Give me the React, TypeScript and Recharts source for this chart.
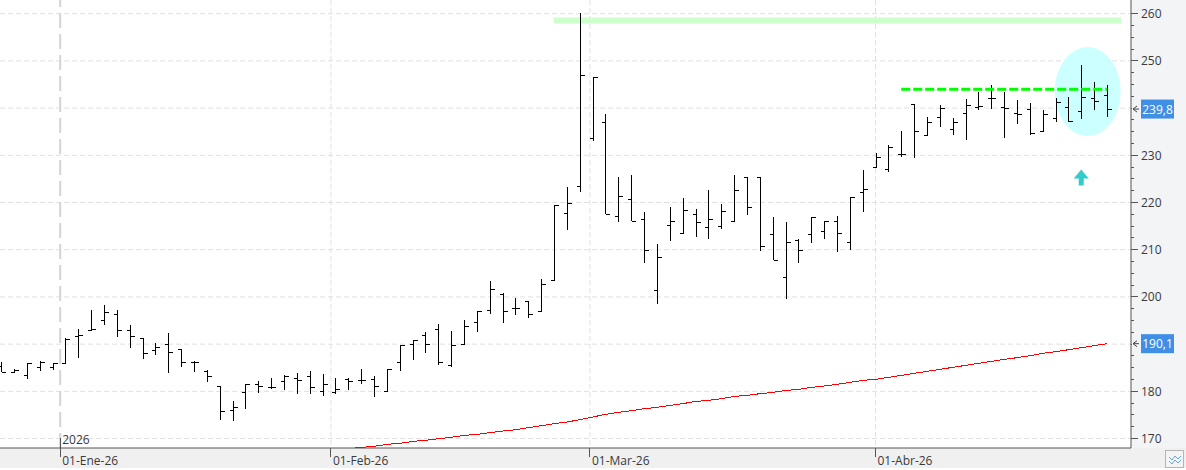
import {
  Bar,
  CartesianGrid,
  ComposedChart,
  Line,
  ReferenceArea,
  ReferenceDot,
  ReferenceLine,
  XAxis,
  YAxis,
} from 'recharts';

const opens = [
  185.3, 184.16, 183.52, 185.08, 185.08, 186.1, 191.8, 192.9, 195.03, 196.38, 192.9, 191.2, 188.68, 190, 189.03,
  186.14, 184.23, 181.12, 176.04, 179.78, 181.47, 180.98, 182.18, 182.75, 183.17, 180, 179.85, 182.54, 182.32,
  182.54, 180, 186.14, 189.95, 191.86, 193.13, 185.5, 189.95, 194.61, 197.15, 200.54, 197.58, 199.06, 197.08,
  203.51, 217.7, 223.42, 233.59, 236.98, 217.07, 220.67, 216.43, 201.39, 215.16, 213.47, 217.49, 214.74, 214.95,
  216.01, 225.33, 225.33, 213.25, 204.14, 211.98, 213.25, 213.89, 216.15, 211.56, 222.15, 227.45, 227.02, 230.2,
  240.87, 234.23, 238.04, 235.57, 238.89, 240.16, 242.07, 240.16, 238.89, 239.74, 235.08, 237.83, 240.16, 239.31,
  242.07, 242.7,
];
const highs = [
  186.28, 184.65, 185.92, 186.35, 186, 191.2, 193.13, 197.2, 198.28, 197.2, 194.04, 191.2, 190.23, 192.35, 189.03,
  186.49, 184.51, 181.12, 177.94, 181.47, 182.18, 182.75, 183.52, 183.95, 184.23, 183.6, 182.75, 182.75, 184.73,
  183.17, 184.65, 189.74, 190.8, 192.49, 194.19, 192.71, 195.04, 196.94, 203.3, 200.76, 199.7, 199.06, 203.72,
  219.54, 223.28, 260.08, 246.52, 238.68, 225.33, 225.75, 217.91, 211.14, 218.97, 220.88, 218.55, 222.58, 219.61,
  225.75, 225.33, 225.33, 216.92, 215.8, 212.19, 216.85, 216.15, 217.07, 221.09, 226.81, 230.41, 232.11, 235.14,
  240.87, 238.04, 240.65, 237.9, 241.93, 243.41, 244.89, 243.41, 241.71, 241.01, 239.52, 242.07, 242.35, 249.06,
  245.53, 244.82,
];
const lows = [
  184.16, 183.8, 182.67, 184.37, 184.5, 186.06, 187.05, 192.84, 194.04, 191.57, 189.24, 186.91, 187.62, 183.95,
  185.22, 184.16, 182.04, 173.99, 173.78, 176.32, 179.71, 180.49, 180.27, 179.5, 179.5, 179.08, 179.5, 180.35,
  181.62, 178.86, 180, 184.37, 186.7, 188.04, 185.5, 185.08, 189.74, 192.64, 196.31, 194.4, 196.24, 195.6, 196.87,
  203.44, 214.17, 222.22, 233.03, 217.49, 215.87, 216.01, 207.18, 198.57, 211.91, 213.47, 212.76, 212.34, 214.45,
  216.01, 217.42, 209.79, 207.89, 199.62, 207.25, 211.49, 212.33, 209.58, 210, 218.05, 227.45, 226.39, 229.57,
  229.5, 234.16, 236.06, 234.3, 233.3, 239.67, 239.88, 233.73, 236.63, 234.37, 235, 237.12, 237.12, 237.76, 239.6,
  238.18,
];
const closes = [
  184.16, 184.44, 185.92, 186.27, 186, 191.1, 191.93, 193.13, 196.73, 192.9, 191.64, 188.04, 189.31, 188.25, 186.14,
  186.2, 183.24, 175.75, 176.67, 181.47, 181.05, 180.98, 183.31, 182.32, 180.84, 181.48, 180.42, 182.11, 182.32,
  181.05, 184.65, 189.74, 190.8, 189.95, 186.14, 189.74, 193.77, 196.94, 201.6, 196.94, 197.58, 196.31, 202.66,
  219.4, 219.82, 246.94, 246.52, 217.49, 221.3, 216.01, 209.86, 208.38, 216.01, 218.34, 215.8, 216.43, 218.13,
  222.58, 218.97, 210.71, 207.89, 211.56, 209.86, 216.85, 216.01, 213.46, 221.09, 222.79, 229.57, 231.68, 230.2,
  235.07, 236.98, 239.95, 236.98, 240.58, 240.37, 242.07, 239.95, 238.68, 234.65, 238.68, 241.22, 237.19, 242.28,
  241.43, 239.8,
];
// red moving average, comes into the visible range around bar 27
const average = [
  167.85, 168.13, 168.34, 168.77, 168.98, 169.4, 169.61, 169.97, 170.25, 170.67, 170.89, 171.24, 171.59, 171.87,
  172.3, 172.72, 173.15, 173.5, 173.99, 174.56, 175.12, 175.54, 175.89, 176.32, 176.6, 177.02, 177.38, 177.87,
  178.08, 178.44, 178.93, 179.14, 179.5, 179.78, 180.2, 180.41, 180.84, 181.12, 181.47, 181.9, 182.32, 182.54,
  182.96, 183.38, 183.81, 184.23, 184.66, 185.08, 185.5, 185.93, 186.35, 186.77, 187.13, 187.55, 188.05, 188.4,
  188.82, 189.25, 189.67, 190.1,
];
const AVERAGE_START = 27;

const monthTicks = [4.6, 25.65, 45.8, 68];
const monthLabels = ['01-Ene-26', '01-Feb-26', '01-Mar-26', '01-Abr-26'];
const priceTicks = [170, 180, 190, 200, 210, 220, 230, 240, 250, 260];
// these two axis labels sit under the blue last-value tags, so they don't show
const taggedTicks = [190, 240];
const minorTicks = [
  170, 172.5, 175, 177.5, 180, 182.5, 185, 187.5, 190, 192.5, 195, 197.5, 200, 202.5, 205, 207.5, 210, 212.5, 215,
  217.5, 220, 222.5, 225, 227.5, 230, 232.5, 235, 237.5, 240, 242.5, 245, 247.5, 250, 252.5, 255, 257.5, 260,
];

const data = opens.map((open, i) => ({
  i,
  open,
  close: closes[i],
  range: [lows[i], highs[i]],
  avg: i >= AVERAGE_START ? average[i - AVERAGE_START] : null,
}));

const OhlcBar = (props: any) => {
  const { x, y, width, height, payload } = props;
  const [low, high] = payload.range;
  const cx = Math.round(x + width / 2) + 0.5;
  const toY = (v: number) => Math.round(y + ((high - v) / (high - low)) * height) + 0.5;
  return (
    <g stroke="#000" strokeWidth={1} shapeRendering="crispEdges">
      <line x1={cx} x2={cx} y1={y} y2={y + height} />
      <line x1={cx - 4} x2={cx} y1={toY(payload.open)} y2={toY(payload.open)} />
      <line x1={cx} x2={cx + 4} y1={toY(payload.close)} y2={toY(payload.close)} />
    </g>
  );
};

const MonthTick = ({ x, y, payload, index }: any) => {
  const first = index === 0;
  return (
    <g fontFamily="'Open Sans', sans-serif" fontSize={12} fill="#3a3a3a">
      <line x1={x} x2={x} y1={first ? y - 10 : y} y2={y + 9} stroke="#555" shapeRendering="crispEdges" />
      {first && (
        <text x={x + 2} y={y - 4.5}>
          2026
        </text>
      )}
      <text x={x + 2} y={y + 17}>
        {monthLabels[monthTicks.indexOf(payload.value)]}
      </text>
    </g>
  );
};

const PriceTick = ({ x, y, payload }: any) => {
  const major = priceTicks.includes(payload.value);
  return (
    <g>
      <line x1={x} x2={x + (major ? 7 : 3)} y1={y} y2={y} stroke="#555" shapeRendering="crispEdges" />
      {major && !taggedTicks.includes(payload.value) && (
        <text x={x + 10} y={y + 4.5} fontFamily="'Open Sans', sans-serif" fontSize={12} fill="#3a3a3a">
          {payload.value}
        </text>
      )}
    </g>
  );
};

const PriceTag = ({ cy, x, text }: any) => (
  <g>
    <rect x={x + 1} y={cy - 9.5} width={9} height={19} fill="#f3f4f6" />
    <path d={`M${x + 2} ${cy}l4 -3M${x + 2} ${cy}l4 3M${x + 2} ${cy}h6`} stroke="#444" fill="none" />
    <rect x={x + 10} y={cy - 9.5} width={33} height={19} fill="#3f8fe5" />
    <text x={x + 26.5} y={cy + 4.5} textAnchor="middle" fontFamily="'Open Sans', sans-serif" fontSize={12} fill="#fff">
      {text}
    </text>
  </g>
);

export default function App() {
  return (
    <div style={{ position: 'absolute', left: 0, top: 0, width: 1186, height: 470, background: '#f0f0f0' }}>
      <div style={{ position: 'absolute', left: 0, top: 0, width: 1131, height: 448, background: '#fff' }} />
      <div style={{ position: 'absolute', left: 1131, top: 0, width: 55, height: 448, background: '#f3f4f6' }} />
      <div style={{ position: 'absolute', left: 0, top: 468, width: 1186, height: 2, background: '#fff' }} />
      <div style={{ position: 'absolute', left: 0, top: 0 }}>
        <ComposedChart width={1186} height={470} data={data} margin={{ top: 0, right: 0, bottom: 0, left: 0 }}>
          <CartesianGrid
            stroke="#e0e0e0"
            strokeDasharray="5 3"
            horizontalValues={priceTicks}
            verticalValues={monthTicks.slice(1)}
          />
          <XAxis
            dataKey="i"
            type="number"
            domain={[-0.08, 87.87]}
            allowDataOverflow
            ticks={monthTicks}
            interval={0}
            height={22}
            stroke="#555"
            tickLine={false}
            tickSize={0}
            tickMargin={0}
            tick={<MonthTick />}
          />
          <YAxis
            orientation="right"
            width={55}
            domain={[168, 262.9]}
            allowDataOverflow
            ticks={minorTicks}
            interval={0}
            stroke="#555"
            tickLine={false}
            tickSize={0}
            tickMargin={0}
            tick={<PriceTick />}
          />
          <ReferenceLine x={monthTicks[0]} stroke="#d4d4d4" strokeWidth={2} strokeDasharray="15 6" zIndex={-50} />
          <ReferenceDot
            x={84.5}
            y={243.5}
            r={1}
            zIndex={-60}
            shape={({ cx, cy }: any) => <ellipse cx={cx} cy={cy} rx={33} ry={44.5} fill="#ccffff" />}
          />
          <ReferenceArea
            x1={43}
            x2={87.1}
            y1={257.9}
            y2={259.2}
            fill="#ccffcc"
            fillOpacity={1}
            stroke="none"
            zIndex={-50}
          />
          <Bar dataKey="range" barSize={1} shape={<OhlcBar />} isAnimationActive={false} />
          <Line
            dataKey="avg"
            stroke="#ff0000"
            strokeWidth={1}
            shapeRendering="crispEdges"
            dot={false}
            connectNulls={false}
            isAnimationActive={false}
          />
          <ReferenceLine
            segment={[
              { x: 70, y: 244 },
              { x: 86, y: 244 },
            ]}
            stroke="#00ff00"
            strokeWidth={3}
            strokeDasharray="9 3"
          />
          <ReferenceDot
            x={84}
            y={225.3}
            r={1}
            shape={({ cx, cy }: any) => <path d={`M${cx} ${cy - 8}l7.5 9h-5v7h-5v-7h-5z`} fill="#33cccc" />}
          />
          <ReferenceDot
            x={86}
            y={239.8}
            r={1}
            zIndex={3000}
            ifOverflow="visible"
            shape={({ cy }: any) => <PriceTag cy={cy} x={1131} text="239,8" />}
          />
          <ReferenceDot
            x={86}
            y={190.1}
            r={1}
            zIndex={3000}
            ifOverflow="visible"
            shape={({ cy }: any) => <PriceTag cy={cy} x={1131} text="190,1" />}
          />
        </ComposedChart>
      </div>
      <svg style={{ position: 'absolute', left: 1165, top: 450 }} width={19} height={18}>
        <rect x={0.5} y={0.5} width={18} height={17} fill="#f4f4f4" stroke="#b5b5b5" />
        <path d="M4 7l3 3 3 -4 3 3 3 -3M4 11l3 3 3 -4 3 3 3 -3" fill="none" stroke="#6aa6d8" />
      </svg>
    </div>
  );
}
